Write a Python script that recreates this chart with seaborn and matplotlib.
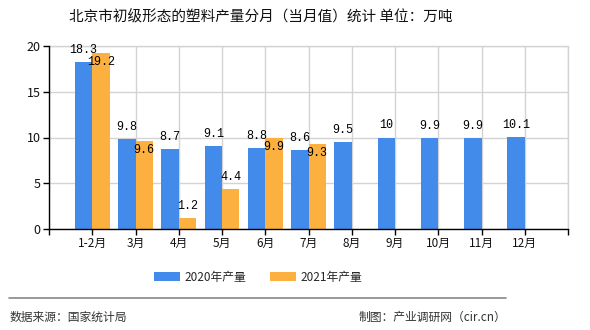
import matplotlib
matplotlib.use("Agg")
import matplotlib.pyplot as plt
import seaborn as sns
import pandas as pd
import numpy as np
from matplotlib.patches import Patch

categories = ["1-2月", "3月", "4月", "5月", "6月", "7月", "8月", "9月", "10月", "11月", "12月"]
values_2020 = [18.3, 9.8, 8.7, 9.1, 8.8, 8.6, 9.5, 10, 9.9, 9.9, 10.1]
values_2021 = [19.2, 9.6, 1.2, 4.4, 9.9, 9.3]
labels_2020 = ["18.3", "9.8", "8.7", "9.1", "8.8", "8.6", "9.5", "10", "9.9", "9.9", "10.1"]
labels_2021 = ["19.2", "9.6", "1.2", "4.4", "9.9", "9.3"]
series_names = ["2020年产量", "2021年产量"]
yticks = [0, 5, 10, 15, 20]

title = "北京市初级形态的塑料产量分月（当月值）统计 单位：万吨"
source = "数据来源：国家统计局"
credit = "制图：产业调研网（cir.cn）"

blue = "#428BEB"
orange = "#FCB03F"

sns.set_theme(style="white")
plt.rcParams["font.family"] = ["Noto Sans CJK SC", "DejaVu Sans"]

rows = []
for c, v in zip(categories, values_2020):
    rows.append({"month": c, "series": series_names[0], "value": v})
for c, v in zip(categories, values_2021):
    rows.append({"month": c, "series": series_names[1], "value": v})
df = pd.DataFrame(rows)

fig = plt.figure(figsize=(5.9, 3.3), dpi=100)
ax = fig.add_axes([49 / 590, 1 - 229 / 330, (568 - 49) / 590, (229 - 46) / 330])

sns.barplot(data=df, x="month", y="value", hue="series", order=categories,
            hue_order=series_names, palette=[blue, orange], width=0.8,
            saturation=1, ax=ax, legend=False, errorbar=None, zorder=3)
for p in ax.patches:
    p.set_edgecolor("none")

ax.set_xlim(-1, len(categories))
ax.set_ylim(0, 20)
ax.set_xlabel("")
ax.set_ylabel("")

xt = list(range(-1, len(categories) + 1))
ax.set_xticks(xt)
ax.set_xticklabels([""] + categories + [""], fontsize=8.5, color="#111111")
ax.set_yticks(yticks)
ax.set_yticklabels([str(t) for t in yticks], fontsize=9, color="#111111")
ax.tick_params(axis="both", direction="out", length=4, width=1, color="black", pad=2, bottom=True, left=True)

ax.grid(True, axis="both", color="#d3d3d3", linewidth=1, zorder=0)
ax.set_axisbelow(True)
ax.axvline(len(categories), color="#d3d3d3", linewidth=1, clip_on=False, zorder=0)
ax.axhline(20, color="#d3d3d3", linewidth=1, clip_on=False, zorder=0)
for s in ["top", "right"]:
    ax.spines[s].set_visible(False)
for s in ["left", "bottom"]:
    ax.spines[s].set_color("black")
    ax.spines[s].set_linewidth(1)
    ax.spines[s].set_zorder(5)

mono = ["Liberation Mono", "DejaVu Sans Mono"]
fs = 8.5
for i, (v, lab) in enumerate(zip(values_2020, labels_2020)):
    ax.annotate(lab, (i - 0.2, v), xytext=(0, 6), textcoords="offset pixels",
                ha="center", va="bottom", fontsize=fs, family=mono, color="black", zorder=6)
for i, (v, lab) in enumerate(zip(values_2021, labels_2021)):
    inside = v >= values_2020[i] - 1
    if inside:
        ax.annotate(lab, (i + 0.2, v), xytext=(0, -3), textcoords="offset pixels",
                    ha="center", va="top", fontsize=fs, family=mono, color="black", zorder=6)
    else:
        ax.annotate(lab, (i + 0.2, v), xytext=(0, 6), textcoords="offset pixels",
                    ha="center", va="bottom", fontsize=fs, family=mono, color="black", zorder=6)

fig.text(261 / 590, 1 - 17 / 330, title, ha="center", va="center", fontsize=10.5, color="#111111")

handles = [Patch(facecolor=blue, edgecolor="none"), Patch(facecolor=orange, edgecolor="none")]
fig.legend(handles, series_names, loc="center", bbox_to_anchor=(258 / 590, 1 - 277 / 330),
           ncol=2, frameon=False, fontsize=8.5, handlelength=2.2, handleheight=0.8,
           columnspacing=2.0, handletextpad=0.4)

fig.add_artist(plt.Line2D([9 / 590, 506 / 590], [1 - 298 / 330] * 2, color="#888888", linewidth=1.2,
                          transform=fig.transFigure))
fig.text(10 / 590, 1 - 317 / 330, source, ha="left", va="center", fontsize=8.5, color="#333333")
fig.text(506 / 590, 1 - 317 / 330, credit, ha="right", va="center", fontsize=8.5, color="#333333")

fig.savefig("out.png", dpi=100)
